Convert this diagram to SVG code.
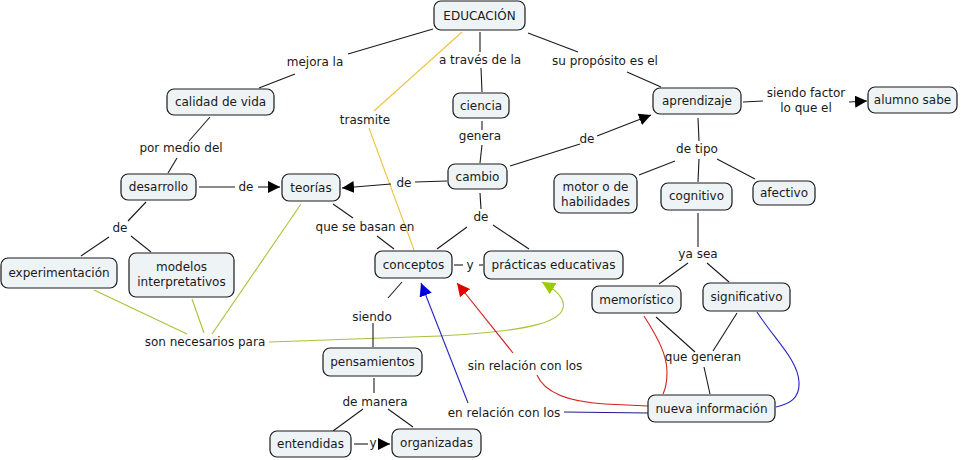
<svg xmlns="http://www.w3.org/2000/svg" width="965" height="460" viewBox="0 0 965 460">
<defs>
<style>
.n rect{fill:#EEF3F6;stroke:#1a1a1a;stroke-width:1.2}
text{font-family:"DejaVu Sans","Verdana",sans-serif;font-size:12px;fill:#1a1a1a;text-anchor:middle}
.c path,.c line{fill:none;stroke:#1a1a1a;stroke-width:1.1}
.c .y{stroke:#EEC43C}
.c .g{stroke:#A8C23C}
.c .r{stroke:#D42020}
.c .b{stroke:#2424C0}
.c .bn{stroke:#1C1C88}
</style>
<marker id="ak" viewBox="0 0 10 10" refX="10" refY="5" markerWidth="12" markerHeight="12" markerUnits="userSpaceOnUse" orient="auto"><path d="M0,0L10,5L0,10z" fill="#000"/></marker>
<marker id="ag" viewBox="0 0 10 10" refX="10" refY="5" markerWidth="13" markerHeight="13" markerUnits="userSpaceOnUse" orient="auto"><path d="M0,0L10,5L0,10z" fill="#99CC00"/></marker>
<marker id="ar" viewBox="0 0 10 10" refX="10" refY="5" markerWidth="13" markerHeight="13" markerUnits="userSpaceOnUse" orient="auto"><path d="M0,0L10,5L0,10z" fill="#E00000"/></marker>
<marker id="ab" viewBox="0 0 10 10" refX="10" refY="5" markerWidth="13" markerHeight="13" markerUnits="userSpaceOnUse" orient="auto"><path d="M0,0L10,5L0,10z" fill="#0000E0"/></marker>
</defs>
<rect width="965" height="460" fill="#fff"/>
<g class="c" id="connectors">
<line x1="433" y1="29" x2="348" y2="54"/>
<line x1="295" y1="74" x2="259" y2="88"/>
<line x1="480" y1="32" x2="480" y2="52"/>
<line x1="481" y1="68" x2="482" y2="92"/>
<line x1="528" y1="33" x2="578" y2="52"/>
<line x1="627" y1="72" x2="661" y2="87"/>
<line class="y" x1="462" y1="32" x2="374" y2="111"/>
<line class="y" x1="369" y1="128" x2="414" y2="250"/>
<line x1="482" y1="121" x2="482" y2="130"/>
<line x1="482" y1="145" x2="480" y2="163"/>
<line x1="510" y1="166" x2="580" y2="144"/>
<line x1="597" y1="136" x2="651" y2="115" marker-end="url(#ak)"/>
<line x1="447" y1="181" x2="415" y2="182"/>
<line x1="391" y1="184" x2="342" y2="188" marker-end="url(#ak)"/>
<line x1="480" y1="193" x2="481" y2="209"/>
<line x1="467" y1="227" x2="437" y2="249"/>
<line x1="493" y1="225" x2="529" y2="249"/>
<line x1="333" y1="204" x2="353" y2="218"/>
<line x1="377" y1="236" x2="394" y2="249"/>
<line x1="210" y1="117" x2="189" y2="141"/>
<line x1="177" y1="158" x2="168" y2="173"/>
<line x1="199" y1="187" x2="235" y2="187"/>
<line x1="258" y1="187" x2="280" y2="187" marker-end="url(#ak)"/>
<line x1="146" y1="202" x2="128" y2="221"/>
<line x1="109" y1="237" x2="81" y2="256"/>
<line x1="131" y1="236" x2="151" y2="252"/>
<line class="g" x1="94" y1="290" x2="187" y2="334"/>
<line class="g" x1="192" y1="299" x2="204" y2="333"/>
<line class="g" x1="301" y1="204" x2="212" y2="334"/>
<path class="g" d="M269,342 L440,336 C530,331 568,322 563,302 C560,293 552,288 542,282" marker-end="url(#ag)"/>
<line x1="454" y1="265" x2="463" y2="265"/>
<line x1="479" y1="265" x2="483" y2="265"/>
<line x1="402" y1="282" x2="388" y2="298"/>
<line x1="373" y1="323" x2="373" y2="347"/>
<line x1="374" y1="378" x2="374" y2="393"/>
<line x1="363" y1="409" x2="333" y2="431"/>
<line x1="388" y1="409" x2="413" y2="427"/>
<line x1="354" y1="444" x2="368" y2="444"/>
<line x1="379" y1="444" x2="390" y2="444" marker-end="url(#ak)"/>
<line x1="743" y1="102" x2="763" y2="101"/>
<line x1="849" y1="102" x2="867" y2="101" marker-end="url(#ak)"/>
<line x1="698" y1="118" x2="699" y2="141"/>
<line x1="675" y1="161" x2="639" y2="175"/>
<line x1="699" y1="159" x2="698" y2="182"/>
<line x1="717" y1="159" x2="755" y2="179"/>
<line x1="698" y1="213" x2="698" y2="247"/>
<line x1="688" y1="263" x2="659" y2="284"/>
<line x1="707" y1="263" x2="729" y2="282"/>
<line x1="656" y1="317" x2="695" y2="352"/>
<line x1="737" y1="313" x2="713" y2="351"/>
<line x1="704" y1="367" x2="710" y2="394"/>
<path class="r" d="M644,316 C658,338 667,355 667,372 C667,384 665,390 663,394"/>
<path class="r" d="M648,406 L605,404 C572,402 545,394 537,375"/>
<line class="r" x1="513" y1="353" x2="457" y2="283" marker-end="url(#ar)"/>
<path class="b" d="M757,312 C775,340 798,360 799,382 C800,398 790,404 776,407"/>
<line class="bn" x1="648" y1="413" x2="564" y2="412"/>
<line class="b" x1="468" y1="403" x2="421" y2="283" marker-end="url(#ab)"/>
</g>
<g id="labels">
<text x="315" y="66">mejora la</text>
<text x="480" y="64">a través de la</text>
<text x="605" y="65">su propósito es el</text>
<text x="365" y="124">trasmite</text>
<text x="480" y="140">genera</text>
<text x="587" y="143">de</text>
<text x="806" y="97">siendo factor</text>
<text x="806" y="112">lo que el</text>
<text x="697" y="153">de tipo</text>
<text x="181" y="152">por medio del</text>
<text x="246" y="191">de</text>
<text x="404" y="187">de</text>
<text x="365" y="231">que se basan en</text>
<text x="481" y="221">de</text>
<text x="120" y="232">de</text>
<text x="470" y="269">y</text>
<text x="698" y="258">ya sea</text>
<text x="205" y="346">son necesarios para</text>
<text x="372" y="321">siendo</text>
<text x="703" y="361">que generan</text>
<text x="525" y="370">sin relación con los</text>
<text x="375" y="406">de manera</text>
<text x="504" y="417">en relación con los</text>
<text x="373" y="447">y</text>
</g>
<g class="n" id="n-educacion"><rect x="434" y="1" width="91" height="29" rx="7"/><text x="479.5" y="20">EDUCACIÓN</text></g>
<g class="n" id="n-calidad"><rect x="167" y="89" width="107" height="26" rx="7"/><text x="220.5" y="106">calidad de vida</text></g>
<g class="n" id="n-desarrollo"><rect x="121" y="174" width="75" height="26" rx="7"/><text x="158.5" y="191">desarrollo</text></g>
<g class="n" id="n-teorias"><rect x="282" y="174" width="58" height="27" rx="7"/><text x="311" y="192">teorías</text></g>
<g class="n" id="n-ciencia"><rect x="453" y="93" width="56" height="25" rx="7"/><text x="481" y="110">ciencia</text></g>
<g class="n" id="n-cambio"><rect x="448" y="164" width="59" height="25" rx="7"/><text x="477.5" y="181">cambio</text></g>
<g class="n" id="n-motor"><rect x="554" y="174" width="83" height="39" rx="7"/><text x="595.5" y="191">motor o de</text><text x="595.5" y="206">habilidades</text></g>
<g class="n" id="n-aprendizaje"><rect x="653" y="88" width="88" height="26" rx="7"/><text x="697" y="105">aprendizaje</text></g>
<g class="n" id="n-alumno"><rect x="868" y="87" width="89" height="26" rx="7"/><text x="912.5" y="104">alumno sabe</text></g>
<g class="n" id="n-cognitivo"><rect x="661" y="183" width="71" height="27" rx="7"/><text x="696.5" y="200">cognitivo</text></g>
<g class="n" id="n-afectivo"><rect x="753" y="181" width="62" height="24" rx="7"/><text x="784" y="197">afectivo</text></g>
<g class="n" id="n-experimentacion"><rect x="1" y="258" width="116" height="30" rx="7"/><text x="59" y="277">experimentación</text></g>
<g class="n" id="n-modelos"><rect x="129" y="253" width="105" height="44" rx="7"/><text x="181.5" y="271">modelos</text><text x="181.5" y="286">interpretativos</text></g>
<g class="n" id="n-conceptos"><rect x="375" y="251" width="77" height="27" rx="7"/><text x="413.5" y="269">conceptos</text></g>
<g class="n" id="n-practicas"><rect x="484" y="251" width="139" height="28" rx="7"/><text x="553.5" y="269">prácticas educativas</text></g>
<g class="n" id="n-pensamientos"><rect x="323" y="348" width="99" height="28" rx="7"/><text x="372.5" y="366">pensamientos</text></g>
<g class="n" id="n-entendidas"><rect x="270" y="431" width="81" height="26" rx="7"/><text x="310.5" y="448">entendidas</text></g>
<g class="n" id="n-organizadas"><rect x="392" y="429" width="89" height="28" rx="7"/><text x="436.5" y="447">organizadas</text></g>
<g class="n" id="n-memoristico"><rect x="592" y="286" width="89" height="27" rx="7"/><text x="636.5" y="304">memorístico</text></g>
<g class="n" id="n-significativo"><rect x="703" y="283" width="87" height="28" rx="7"/><text x="746.5" y="301">significativo</text></g>
<g class="n" id="n-nueva"><rect x="648" y="395" width="127" height="27" rx="7"/><text x="711.5" y="413">nueva información</text></g>
</svg>
